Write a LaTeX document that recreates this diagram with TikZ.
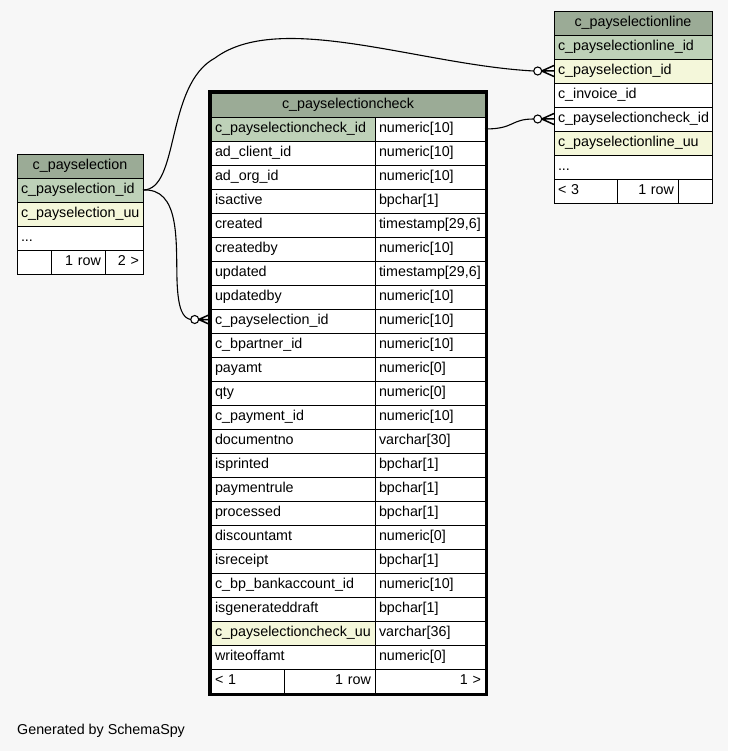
\documentclass[tikz,border=0pt]{standalone}
\usepackage{fontspec}
\setmainfont{Liberation Sans}
\usetikzlibrary{arrows.meta,positioning,calc}
\definecolor{canvas}{HTML}{F7F7F7}
\definecolor{headfill}{HTML}{9BAB96}
\definecolor{keyfill}{HTML}{BED1B8}
\definecolor{uufill}{HTML}{F4F7DA}
\tikzset{
  every node/.style={font=\fontsize{14.3}{16}\selectfont,text=black},
  cell/.style={draw=black,line width=0.8pt,fill=white,anchor=north west,outer sep=0pt,minimum height=24pt,inner xsep=4pt,inner ysep=0pt,text height=10.5pt,text depth=3pt,align=left},
  wd/.style={minimum width=#1,text width=#1-8},
  headcell/.style={cell,fill=headfill,align=center},
  keycell/.style={cell,fill=keyfill},
  uucell/.style={cell,fill=uufill},
  numcell/.style={cell,align=right},
  under/.style={below=0pt of #1.south west,anchor=north west},
  beside/.style={right=0pt of #1.north east,anchor=north west},
  tableframe/.style={draw=black,line width=2.6pt},
  rel/.style={draw=black,line width=1.1pt},
  crow/.style={draw=black,line width=1.5pt},
}
\newcommand{\zeromany}[1]{%
  \draw[crow] ([xshift=-12.3pt]#1) -- (#1) ([xshift=-12.3pt]#1) -- ([yshift=5.5pt]#1) ([xshift=-12.3pt]#1) -- ([yshift=-5.5pt]#1);
  \draw[rel,fill=white] ([xshift=-16.3pt]#1) circle (4pt);}

\begin{document}
\begin{tikzpicture}[x=1pt,y=-1pt]
\fill[canvas] (0,0) rectangle (728,751);
\useasboundingbox (0,0) rectangle (728,751);

% c_payselection
\node[headcell,wd=126] (ps-head) at (17,154) {c\_payselection};
\node[keycell,wd=126,under=ps-head] (ps-1) {c\_payselection\_id};
\node[uucell,wd=126,under=ps-1] (ps-2) {c\_payselection\_uu};
\node[cell,wd=126,under=ps-2] (ps-3) {...};
\node[cell,wd=34,under=ps-3] (ps-foot1) {};
\node[numcell,wd=54,beside=ps-foot1] (ps-foot2) {1 row};
\node[numcell,wd=38,beside=ps-foot2] (ps-foot3) {2 >};

% c_payselectionline
\node[headcell,wd=158] (line-head) at (554,11) {c\_payselectionline};
\node[keycell,wd=158,under=line-head] (line-1) {c\_payselectionline\_id};
\node[uucell,wd=158,under=line-1] (line-2) {c\_payselection\_id};
\node[cell,wd=158,under=line-2] (line-3) {c\_invoice\_id};
\node[cell,wd=158,under=line-3] (line-4) {c\_payselectioncheck\_id};
\node[uucell,wd=158,under=line-4] (line-5) {c\_payselectionline\_uu};
\node[cell,wd=158,under=line-5] (line-6) {...};
\node[cell,wd=63,under=line-6] (line-foot1) {< 3};
\node[numcell,wd=61,beside=line-foot1] (line-foot2) {1 row};
\node[cell,wd=34,beside=line-foot2] (line-foot3) {};

% c_payselectioncheck
\node[headcell,wd=274] (chk-head) at (211,93) {c\_payselectioncheck};
\foreach \col/\typ/\bg [count=\i] in {
  c\_payselectioncheck\_id/numeric[10]/keyfill,
  ad\_client\_id/numeric[10]/white,
  ad\_org\_id/numeric[10]/white,
  isactive/bpchar[1]/white,
  created/{timestamp[29,6]}/white,
  createdby/numeric[10]/white,
  updated/{timestamp[29,6]}/white,
  updatedby/numeric[10]/white,
  c\_payselection\_id/numeric[10]/white,
  c\_bpartner\_id/numeric[10]/white,
  payamt/numeric[0]/white,
  qty/numeric[0]/white,
  c\_payment\_id/numeric[10]/white,
  documentno/varchar[30]/white,
  isprinted/bpchar[1]/white,
  paymentrule/bpchar[1]/white,
  processed/bpchar[1]/white,
  discountamt/numeric[0]/white,
  isreceipt/bpchar[1]/white,
  c\_bp\_bankaccount\_id/numeric[10]/white,
  isgenerateddraft/bpchar[1]/white,
  c\_payselectioncheck\_uu/varchar[36]/uufill,
  writeoffamt/numeric[0]/white}
{
  \node[cell,wd=164,fill=\bg] (chk-\i) at (211,{93+24*\i}) {\col};
  \node[cell,wd=110] (chk-\i-type) at (375,{93+24*\i}) {\typ};
}
\node[cell,wd=73,under=chk-23] (chk-foot1) {< 1};
\node[numcell,wd=91,beside=chk-foot1] (chk-foot2) {1 row};
\node[numcell,wd=110,beside=chk-foot2] (chk-foot3) {1 >};

% relationships
\coordinate (chk-port) at ([yshift=1.5pt]chk-9.west);
\coordinate (ps-end-line) at ([xshift=-20.3pt]line-2.west);
\coordinate (ps-end-chk) at ([xshift=-20.3pt]chk-port);
\coordinate (chk-end-line) at ([xshift=-20.3pt]line-4.west);
\draw[rel] (ps-1.east) .. controls (180,190) and (165,85) .. (215,58) .. controls (280,10) and (420,65) .. (ps-end-line);
\draw[rel] (ps-1.east) .. controls (180,188) and (176,240) .. (177,280) .. controls (178,310) and (183,318) .. (ps-end-chk);
\draw[rel] (chk-1-type.east) .. controls (515,129) and (510,119) .. (chk-end-line);
\zeromany{line-2.west}
\zeromany{chk-port}
\zeromany{line-4.west}

\draw[tableframe] ([xshift=-1.3pt,yshift=1.3pt]chk-head.north west) rectangle ([xshift=1.3pt,yshift=-1.3pt]chk-foot3.south east);

\node[anchor=west,inner sep=0pt] (credit) at (17,731) {Generated by SchemaSpy};
\end{tikzpicture}
\end{document}
